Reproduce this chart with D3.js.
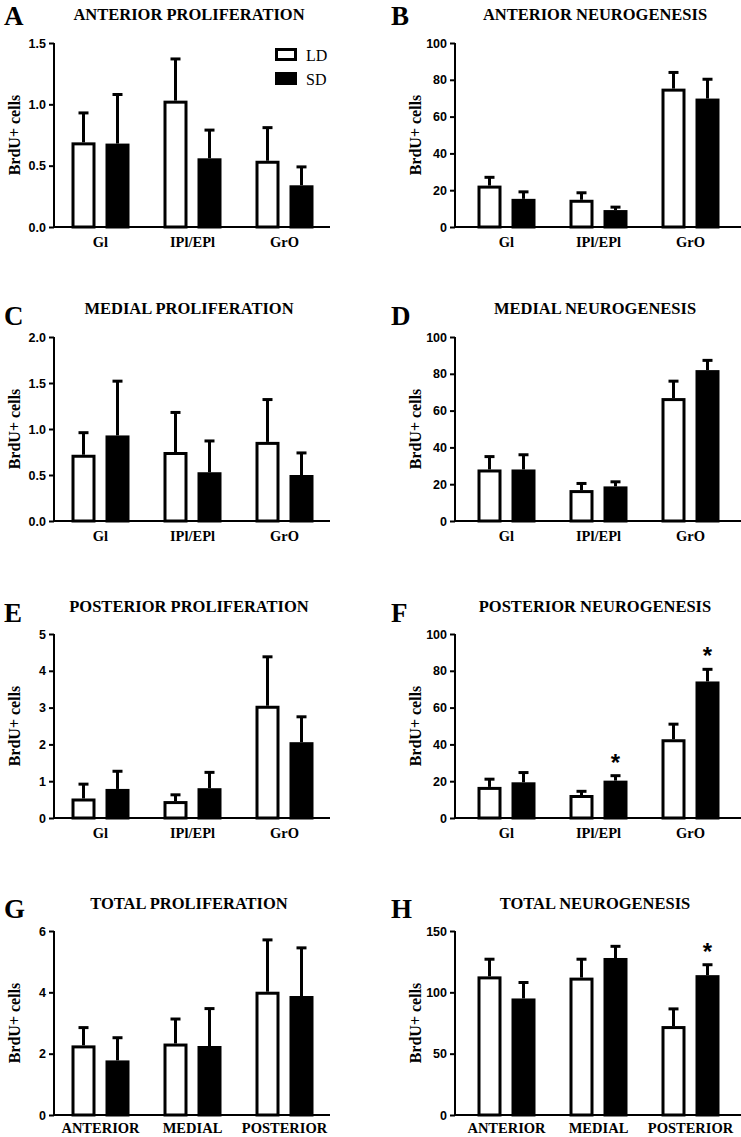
<!DOCTYPE html>
<html>
<head>
<meta charset="utf-8">
<script src="https://cdn.jsdelivr.net/npm/d3@7"></script>
<style>
  body { margin: 0; background: #fff; }
  svg { display: block; }
  .serif { font-family: "Liberation Serif", "Times New Roman", serif; }
  .sans { font-family: "Liberation Sans", Arial, sans-serif; }
</style>
</head>
<body>
<div class="container"></div>
<script>
const WIDTH = 741,
    HEIGHT = 1137;

// categories
const regions = ['Gl', 'IPl/EPl', 'GrO'];
const areas = ['ANTERIOR', 'MEDIAL', 'POSTERIOR'];
const groups = ['LD', 'SD'];

// A - anterior proliferation
const antProlLD = [0.69, 1.03, 0.54], antProlLDErr = [0.24, 0.34, 0.27];
const antProlSD = [0.68, 0.56, 0.34], antProlSDErr = [0.40, 0.23, 0.15];
// B - anterior neurogenesis
const antNeuLD = [22.5, 14.8, 75.2], antNeuLDErr = [4.5, 3.8, 8.8];
const antNeuSD = [15.3, 9.2, 69.8], antNeuSDErr = [3.8, 1.6, 10.5];
// C - medial proliferation
const medProlLD = [0.72, 0.75, 0.86], medProlLDErr = [0.24, 0.43, 0.46];
const medProlSD = [0.93, 0.53, 0.50], medProlSDErr = [0.59, 0.34, 0.24];
// D - medial neurogenesis
const medNeuLD = [28, 16.8, 66.8], medNeuLDErr = [7, 3.6, 9.2];
const medNeuSD = [28, 18.8, 82], medNeuSDErr = [8, 2.5, 5.3];
// E - posterior proliferation
const posProlLD = [0.53, 0.46, 3.05], posProlLDErr = [0.39, 0.17, 1.33];
const posProlSD = [0.79, 0.81, 2.06], posProlSDErr = [0.48, 0.43, 0.69];
// F - posterior neurogenesis
const posNeuLD = [16.9, 12.5, 42.8], posNeuLDErr = [4.2, 2, 8.2];
const posNeuSD = [19.4, 20.3, 74.2], posNeuSDErr = [5.3, 2.7, 6.6];
const posNeuStar = [false, true, true];
// G - total proliferation
const totProlLD = [2.27, 2.33, 4.02], totProlLDErr = [0.58, 0.8, 1.69];
const totProlSD = [1.78, 2.25, 3.88], totProlSDErr = [0.74, 1.22, 1.57];
// H - total neurogenesis
const totNeuLD = [113, 112, 72.5], totNeuLDErr = [14, 15, 14];
const totNeuSD = [95, 128, 114], totNeuSDErr = [13, 9.5, 8.5];
const totNeuStar = [false, false, true];

// y axis ticks
const ticksProlA = [0, 0.5, 1.0, 1.5];
const ticksProlC = [0, 0.5, 1.0, 1.5, 2.0];
const ticksProlE = [0, 1, 2, 3, 4, 5];
const ticksProlG = [0, 2, 4, 6];
const ticksNeu = [0, 20, 40, 60, 80, 100];
const ticksNeuH = [0, 50, 100, 150];

const panels = [
    { letter: 'A', title: 'ANTERIOR PROLIFERATION', cats: regions, ld: antProlLD, ldE: antProlLDErr, sd: antProlSD, sdE: antProlSDErr, ticks: ticksProlA, fmt: '.1f', col: 0, row: 0, legend: true },
    { letter: 'B', title: 'ANTERIOR NEUROGENESIS', cats: regions, ld: antNeuLD, ldE: antNeuLDErr, sd: antNeuSD, sdE: antNeuSDErr, ticks: ticksNeu, fmt: 'd', col: 1, row: 0 },
    { letter: 'C', title: 'MEDIAL PROLIFERATION', cats: regions, ld: medProlLD, ldE: medProlLDErr, sd: medProlSD, sdE: medProlSDErr, ticks: ticksProlC, fmt: '.1f', col: 0, row: 1 },
    { letter: 'D', title: 'MEDIAL NEUROGENESIS', cats: regions, ld: medNeuLD, ldE: medNeuLDErr, sd: medNeuSD, sdE: medNeuSDErr, ticks: ticksNeu, fmt: 'd', col: 1, row: 1 },
    { letter: 'E', title: 'POSTERIOR PROLIFERATION', cats: regions, ld: posProlLD, ldE: posProlLDErr, sd: posProlSD, sdE: posProlSDErr, ticks: ticksProlE, fmt: 'd', col: 0, row: 2 },
    { letter: 'F', title: 'POSTERIOR NEUROGENESIS', cats: regions, ld: posNeuLD, ldE: posNeuLDErr, sd: posNeuSD, sdE: posNeuSDErr, ticks: ticksNeu, fmt: 'd', col: 1, row: 2, star: posNeuStar },
    { letter: 'G', title: 'TOTAL PROLIFERATION', cats: areas, ld: totProlLD, ldE: totProlLDErr, sd: totProlSD, sdE: totProlSDErr, ticks: ticksProlG, fmt: 'd', col: 0, row: 3 },
    { letter: 'H', title: 'TOTAL NEUROGENESIS', cats: areas, ld: totNeuLD, ldE: totNeuLDErr, sd: totNeuSD, sdE: totNeuSDErr, ticks: ticksNeuH, fmt: 'd', col: 1, row: 3, star: totNeuStar }
];

// layout
const COLS = [
    { axisX: 54, axisEnd: 330, bandStart: 54.5, titleX: 189, letterX: 4 },
    { axisX: 455, axisEnd: 741, bandStart: 460.5, titleX: 595, letterX: 391 }
];
const ROWS = [
    { top: 43, bottom: 227, titleY: 20, letterY: 25, labY: 20 },
    { top: 337, bottom: 521, titleY: 314, letterY: 325, labY: 20 },
    { top: 634, bottom: 818, titleY: 612, letterY: 622, labY: 20 },
    { top: 931, bottom: 1115, titleY: 909, letterY: 918, labY: 18 }
];
const BAND = 92, BAR_W = 24, BAR_OFF = 17, STROKE = 3, CAP = 10;

var svg = d3.select('.container').append('svg')
    .attr('width', WIDTH)
    .attr('height', HEIGHT);

var drawPanel = (p) => {
    var c = COLS[p.col], r = ROWS[p.row];
    var g = svg.append('g');

    var x = d3.scaleBand()
        .domain(p.cats)
        .range([c.bandStart, c.bandStart + BAND * p.cats.length]);
    var sub = d3.scalePoint()
        .domain(groups)
        .range([-BAR_OFF, BAR_OFF]);
    var y = d3.scaleLinear()
        .domain([0, d3.max(p.ticks)])
        .range([r.bottom, r.top]);

    // letter and title
    g.append('text')
        .attr('class', 'serif')
        .attr('x', c.letterX)
        .attr('y', r.letterY)
        .attr('font-size', 27)
        .attr('font-weight', 'bold')
        .text(p.letter);
    g.append('text')
        .attr('class', 'serif')
        .attr('x', c.titleX)
        .attr('y', r.titleY)
        .attr('text-anchor', 'middle')
        .attr('font-size', 16.5)
        .attr('font-weight', 'bold')
        .text(p.title);

    // y axis label
    g.append('text')
        .attr('class', 'serif')
        .attr('transform', 'translate(' + (c.axisX - 34) + ',' + ((r.top + r.bottom) / 2) + ') rotate(-90)')
        .attr('text-anchor', 'middle')
        .attr('font-size', 16)
        .attr('font-weight', 'bold')
        .text('BrdU+ cells');

    var rows = [];
    p.cats.forEach((cat, i) => {
        rows.push({ cat: cat, grp: 'LD', v: p.ld[i], e: p.ldE[i], star: false });
        rows.push({ cat: cat, grp: 'SD', v: p.sd[i], e: p.sdE[i], star: p.star ? p.star[i] : false });
    });
    var cx = (d) => x(d.cat) + x.bandwidth() / 2 + sub(d.grp);

    // error bars
    var err = g.append('g').attr('stroke', '#000').attr('stroke-width', STROKE);
    err.selectAll('.stem').data(rows).enter().append('line')
        .attr('x1', cx).attr('x2', cx)
        .attr('y1', (d) => y(d.v))
        .attr('y2', (d) => y(d.v + d.e));
    err.selectAll('.cap').data(rows).enter().append('line')
        .attr('x1', (d) => cx(d) - CAP / 2)
        .attr('x2', (d) => cx(d) + CAP / 2)
        .attr('y1', (d) => y(d.v + d.e))
        .attr('y2', (d) => y(d.v + d.e));

    // bars
    g.selectAll('rect.bar').data(rows).enter().append('rect')
        .attr('class', 'bar')
        .attr('x', (d) => cx(d) - (BAR_W - STROKE) / 2)
        .attr('width', BAR_W - STROKE)
        .attr('y', (d) => y(d.v) + STROKE / 2)
        .attr('height', (d) => y(0) - y(d.v) - STROKE / 2)
        .attr('fill', (d) => d.grp == 'LD' ? '#fff' : '#000')
        .attr('stroke', '#000')
        .attr('stroke-width', STROKE);

    // significance marks
    g.selectAll('text.star').data(rows.filter((d) => d.star)).enter().append('text')
        .attr('class', 'sans star')
        .attr('x', cx)
        .attr('y', (d) => y(d.v + d.e) - 5)
        .attr('text-anchor', 'middle')
        .attr('font-size', 24)
        .attr('font-weight', 'bold')
        .text('*');

    // y axis
    var yAxis = d3.axisLeft(y)
        .tickValues(p.ticks)
        .tickSize(5)
        .tickPadding(3)
        .tickFormat(d3.format(p.fmt));
    var ya = g.append('g')
        .attr('transform', 'translate(' + c.axisX + ',0)')
        .call(yAxis);
    ya.select('.domain').attr('stroke-width', 2).attr('d', 'M0,' + r.top + 'V' + r.bottom);
    ya.selectAll('.tick line').attr('stroke-width', 2);
    ya.selectAll('.tick text')
        .attr('class', 'sans')
        .attr('font-size', 12.5)
        .attr('font-weight', 'bold')
        .attr('fill', '#000');

    // x axis
    g.append('line')
        .attr('x1', c.axisX - 1).attr('x2', c.axisEnd)
        .attr('y1', r.bottom).attr('y2', r.bottom)
        .attr('stroke', '#000')
        .attr('stroke-width', 2);
    g.selectAll('text.xlab').data(p.cats).enter().append('text')
        .attr('class', 'serif xlab')
        .attr('x', (d) => x(d) + x.bandwidth() / 2)
        .attr('y', r.bottom + r.labY)
        .attr('text-anchor', 'middle')
        .attr('font-size', 14.5)
        .attr('font-weight', 'bold')
        .text((d) => d);

    // legend
    if (p.legend) {
        var lg = g.append('g');
        groups.forEach((k, i) => {
            lg.append('rect')
                .attr('x', 276.5).attr('y', 49.5 + i * 24)
                .attr('width', 19).attr('height', 10)
                .attr('fill', k == 'LD' ? '#fff' : '#000')
                .attr('stroke', '#000').attr('stroke-width', 3);
            lg.append('text')
                .attr('class', 'serif')
                .attr('x', 306).attr('y', 61 + i * 24)
                .attr('font-size', 16)
                .text(k);
        });
    }
};

panels.forEach(drawPanel);
</script>
</body>
</html>
